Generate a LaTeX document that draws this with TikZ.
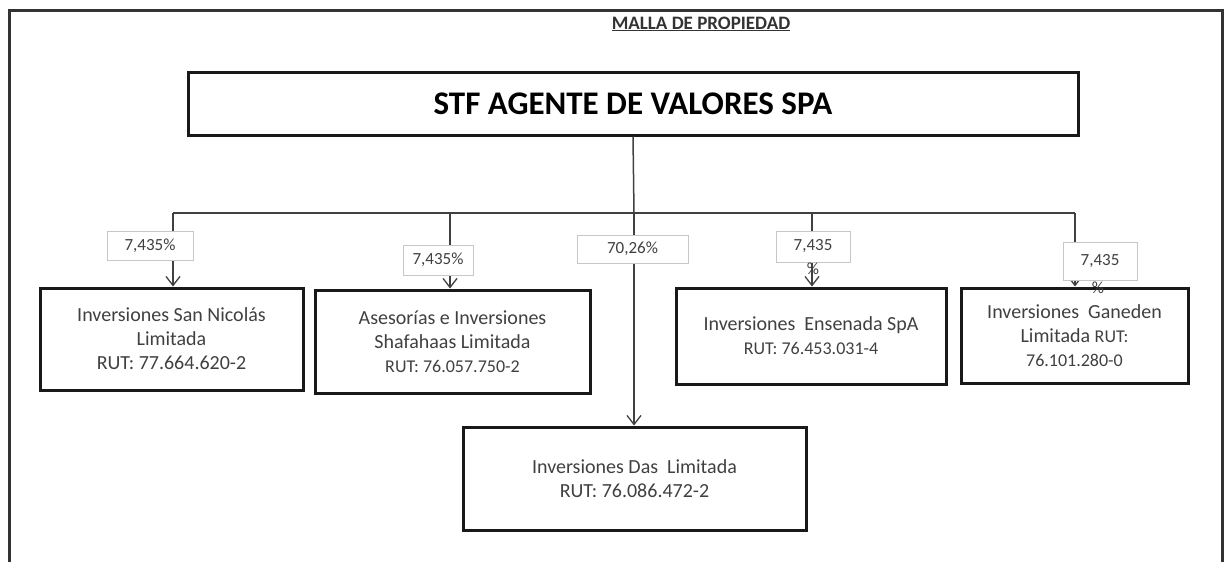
\documentclass[tikz,border=0pt]{standalone}
\usepackage{fontspec}
\setmainfont{Carlito}
\usetikzlibrary{arrows.meta}

\newcommand{\rutsize}{\fontsize{18}{24}\selectfont}

\begin{document}
\begin{tikzpicture}[x=1pt, y=-1pt,
        entity/.style={draw=black!90, line width=3pt, align=center, text=black!75,
            inner sep=0pt, font=\fontsize{20}{24}\selectfont},
        pct/.style={draw=black!22, fill=white, line width=0.9pt, text=black!75,
            inner sep=0pt, font=\fontsize{17}{20}\selectfont},
        pctmark/.style={inner sep=0pt, text=black!75, font=\fontsize{17}{20}\selectfont},
        bus/.style={draw=black!75, line width=1.5pt},
        drop/.style={bus, -{Straight Barb[length=9pt, width=14pt, line width=1.3pt]}}]
            \useasboundingbox (0,0) rectangle (1224,562);
            \draw [line width=3pt, draw=black!80] (9,562) |- (1222,10) -- (1222,562);

            \node [font=\bfseries\fontsize{19}{22}\selectfont, text=black!80] (malla) at (701,24) {\underline{MALLA DE PROPIEDAD}};
            \node [entity, minimum width=890, minimum height=63, text=black,
                font=\bfseries\fontsize{33}{38}\selectfont] (stf) at (633,103.5) {STF AGENTE DE VALORES SPA};

            \node [entity, minimum width=263, minimum height=102] (nicolas) at (171.5,339)
                {Inversiones San Nicolás\\Limitada\\RUT: 77.664.620-2};
            \node [entity, minimum width=275, minimum height=103] (shafahaas) at (452.5,341.5)
                {Asesorías e Inversiones\\Shafahaas Limitada\\{\rutsize RUT: 76.057.750-2}};
            \node [entity, minimum width=270, minimum height=96] (ensenada) at (811,336)
                {Inversiones~ Ensenada SpA\\{\rutsize RUT: 76.453.031-4}};
            \node [entity, minimum width=227, minimum height=95] (ganeden) at (1074.5,335.5)
                {Inversiones~ Ganeden\\Limitada {\rutsize RUT:}\\{\rutsize 76.101.280-0}};
            \node [entity, minimum width=343, minimum height=103] (das) at (634.5,478.5)
                {Inversiones Das~ Limitada\\RUT: 76.086.472-2};

            \coordinate (hub) at (634,213);
            \coordinate (t1) at (173,213);
            \coordinate (t2) at (450,213);
            \coordinate (t4) at (812,213);
            \coordinate (t5) at (1075,213);
            \draw [bus] (stf.south) -- (hub);
            \draw [bus] (t1) -- (t5);
            \draw [drop] (t1) -- (t1 |- nicolas.north);
            \draw [drop] (t2) -- (t2 |- shafahaas.north);
            \draw [drop] (hub) -- (hub |- das.north);
            \draw [drop] (t4) -- (t4 |- ensenada.north);
            \draw [drop] (t5) -- (t5 |- ganeden.north);

            \node [pct, minimum width=86, minimum height=29] (p1) at (150,245.5) {7,435\%};
            \node [pct, minimum width=70, minimum height=30] (p2) at (438,260) {7,435\%};
            \node [pct, minimum width=111, minimum height=28] (p3) at (632.5,249) {70,26\%};
            \node [pct, minimum width=74, minimum height=31, label={[pctmark]below:\%}] (p4) at (813,246.5) {7,435};
            \node [pct, minimum width=74, minimum height=38, label={[pctmark, xshift=-2pt, yshift=-1pt]below:\%}] (p5) at (1100,261) {7,435};
        \end{tikzpicture}
\end{document}
